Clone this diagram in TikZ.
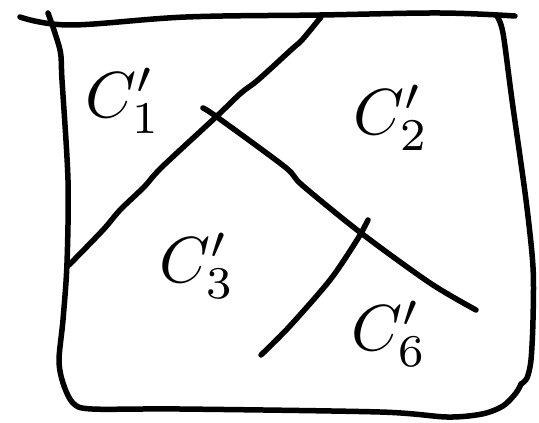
\documentclass[tikz,border=0pt]{standalone}
\begin{document}
\begin{tikzpicture}[x=1pt,y=-1pt,
  stroke/.style={line width=5.5pt, line cap=round, line join=round},
  lbl/.style={scale=6.5, anchor=base west, inner sep=0pt}]
\useasboundingbox (0,0) rectangle (539,423);
% frame
\draw[stroke] plot[smooth, tension=0.6] coordinates {(20,17) (70,25) (186,17) (320,15) (440,13) (515,16)};
\draw[stroke] plot[smooth, tension=0.5] coordinates {(48,13) (60,50) (62,80) (68,180) (67,263) (63,320) (59,360) (63,383) (73,403) (92,409) (180,409) (380,412) (447,417) (482,414) (503,406) (516,393) (521,384)};
\draw[stroke] plot[smooth, tension=0.5] coordinates {(497,16) (503,33) (512,100) (526,200) (533,267) (533,320) (531,360) (527,378) (521,384)};
% dividing strokes
\draw[stroke] plot[smooth, tension=0.5] coordinates {(321,17) (302,40) (292,49) (258,80) (241,93) (217,116) (162,167) (144,187) (120,210) (103,230) (69,265)};
\draw[stroke] plot[smooth, tension=0.5] coordinates {(203,108) (217,117) (285,167) (302,185) (361,233) (430,283) (476,310)};
\draw[stroke] plot[smooth, tension=0.5] coordinates {(368,220) (357,240) (330,280) (289,327) (261,355)};
% labels
\node[lbl] (c1) at (84,117) {$C_1'$};
\node[lbl] (c2) at (352,134) {$C_2'$};
\node[lbl] (c3) at (158,282) {$C_3'$};
\node[lbl] (c6) at (350,350) {$C_6'$};
\end{tikzpicture}
\end{document}
